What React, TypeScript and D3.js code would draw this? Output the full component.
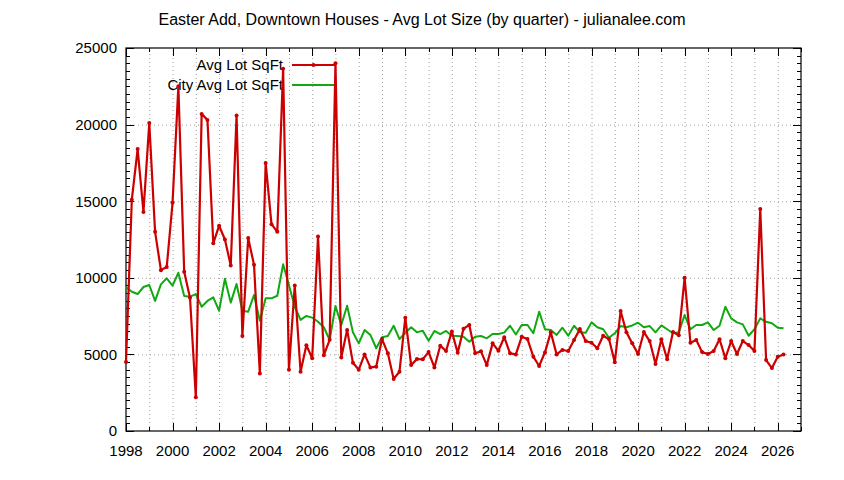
import React, { useEffect, useRef } from "react";
import * as d3 from "d3";

// quarterly series, first point is Q1 1998
const startYear = 1998;

const avgLotSqFt = [
  4500, 15100, 18400, 14300, 20100, 13000, 10500, 10700,
  14900, 22500, 10400, 8700, 2200, 20700, 20300, 12250,
  13400, 12500, 10800, 20600, 6200, 12600, 10850, 3750,
  17500, 13500, 13000, 23650, 4000, 9500, 3870, 5600,
  4750, 12700, 4950, 5950, 24000, 4800, 6600, 4450,
  4000, 5000, 4150, 4200, 6000, 5070, 3400, 3870,
  7400, 4300, 4700, 4680, 5150, 4150, 5570, 5220,
  6500, 5100, 6680, 6920, 5070, 5200, 4300, 5720,
  5240, 6120, 5070, 5000, 6150, 6000, 4850, 4240,
  5130, 6440, 5000, 5290, 5220, 5940, 6650, 5870,
  5760, 5400, 6220, 6000, 4480, 7830, 6440, 5720,
  5030, 6460, 5870, 4370, 5990, 4680, 6460, 6250,
  10000, 5760, 5940, 5150, 5030, 5220, 5990, 4750,
  5870, 5030, 5870, 5610, 5220, 14490, 4630, 4110,
  4850, 5000,
];

const cityAvgLotSqFt = [
  9400, 9090, 8940, 9400, 9530, 8490, 9570, 9970,
  9490, 10330, 8810, 8770, 8940, 8110, 8490, 8720,
  7850, 9940, 8380, 9600, 7850, 7790, 8880, 7200,
  8660, 8660, 8830, 10880, 9530, 8110, 7250, 7510,
  7400, 7130, 6770, 5940, 8160, 6920, 8180, 6440,
  5720, 6590, 6270, 5400, 6120, 6200, 6870, 6000,
  6420, 6770, 6440, 6550, 5890, 6530, 6330, 6530,
  6220, 6200, 6150, 5830, 6150, 6200, 6050, 6330,
  6330, 6420, 6870, 6300, 6920, 6920, 6380, 7790,
  6640, 6590, 6270, 6740, 6220, 6870, 6440, 6420,
  7090, 6770, 6640, 6090, 6380, 6850, 6770, 6890,
  7070, 6770, 6850, 6440, 6890, 6640, 6380, 6440,
  7570, 6640, 6920, 6920, 7090, 6590, 6870, 8110,
  7350, 7090, 6960, 6220, 6640, 7350, 7130, 7030,
  6740, 6700,
];

const yTicks = [0, 5000, 10000, 15000, 20000, 25000];
const xTicks = [1998, 2000, 2002, 2004, 2006, 2008, 2010, 2012, 2014, 2016, 2018, 2020, 2022, 2024, 2026];

const title = "Easter Add, Downtown Houses - Avg Lot Size (by quarter) - julianalee.com";
const seriesNames = ["Avg Lot SqFt", "City Avg Lot SqFt"];

const Chart = () => {
  const chartRef = useRef(null);
  const width = 844;
  const height = 480;
  const marginTop = 48;
  const marginRight = 43;
  const marginBottom = 49;
  const marginLeft = 126;
  const red = "#cc0000";
  const green = "#11a811";

  useEffect(() => {
    if (!chartRef.current) return;
    const svg = d3.select(chartRef.current);
    svg.selectAll("*").remove();
    svg.attr("width", width).attr("height", height).attr("viewBox", [0, 0, width, height]);

    const x = d3.scaleLinear([1998, 2027], [marginLeft, width - marginRight]);
    const y = d3.scaleLinear([0, 25000], [height - marginBottom, marginTop]);
    const font = "'Liberation Sans', Arial, sans-serif";

    svg.append("rect").attr("width", width).attr("height", height).attr("fill", "#fff");

    // grid: every year vertically, every 5000 horizontally
    const grid = svg.append("g").attr("stroke", "#a0a0a0").attr("stroke-width", 1).attr("stroke-dasharray", "1,3");
    d3.range(1999, 2027).forEach((yr) => {
      grid.append("line").attr("x1", x(yr) + 0.5).attr("x2", x(yr) + 0.5)
        .attr("y1", y(0)).attr("y2", y(25000));
    });
    [5000, 10000, 15000, 20000].forEach((v) => {
      grid.append("line").attr("x1", x(1998)).attr("x2", x(2027))
        .attr("y1", y(v) + 0.5).attr("y2", y(v) + 0.5);
    });

    // tick marks, mirrored on top and right
    const ticks = svg.append("g").attr("stroke", "#000").attr("stroke-width", 1);
    d3.range(0, 25001, 500).forEach((v) => {
      const len = v % 5000 === 0 ? 8 : 4;
      const yy = Math.round(y(v)) + 0.5;
      ticks.append("line").attr("x1", x(1998)).attr("x2", x(1998) + len).attr("y1", yy).attr("y2", yy);
      ticks.append("line").attr("x1", x(2027)).attr("x2", x(2027) - len).attr("y1", yy).attr("y2", yy);
    });
    d3.range(1998, 2028).forEach((yr) => {
      const len = yr % 2 === 0 ? 8 : 4;
      const xx = Math.round(x(yr)) + 0.5;
      ticks.append("line").attr("x1", xx).attr("x2", xx).attr("y1", y(0)).attr("y2", y(0) - len);
      ticks.append("line").attr("x1", xx).attr("x2", xx).attr("y1", y(25000)).attr("y2", y(25000) + len);
    });

    // border
    svg.append("rect")
      .attr("x", x(1998)).attr("y", y(25000))
      .attr("width", x(2027) - x(1998)).attr("height", y(0) - y(25000))
      .attr("fill", "none").attr("stroke", "#000").attr("stroke-width", 1.2);

    // tick labels
    svg.append("g").selectAll("text").data(yTicks).join("text")
      .attr("x", marginLeft - 9).attr("y", (d) => y(d))
      .attr("dy", "0.36em").attr("text-anchor", "end")
      .attr("font-family", font).attr("font-size", 15)
      .text((d) => d);
    svg.append("g").selectAll("text").data(xTicks).join("text")
      .attr("x", (d) => x(d)).attr("y", height - marginBottom + 25)
      .attr("text-anchor", "middle")
      .attr("font-family", font).attr("font-size", 15)
      .text((d) => d);

    // title
    svg.append("text").attr("x", 422).attr("y", 25).attr("text-anchor", "middle")
      .attr("font-family", font).attr("font-size", 16).text(title);

    const line = d3.line<number>()
      .x((d, i) => x(startYear + i / 4))
      .y((d) => y(d));

    // legend
    const legendX = 283;
    const sampleX1 = 292;
    const sampleX2 = 335;
    [65, 85].forEach((ly, k) => {
      svg.append("text").attr("x", legendX).attr("y", ly).attr("dy", "0.36em")
        .attr("text-anchor", "end").attr("font-family", font).attr("font-size", 15)
        .text(seriesNames[k]);
      svg.append("line").attr("x1", sampleX1).attr("x2", sampleX2).attr("y1", ly).attr("y2", ly)
        .attr("stroke", k === 0 ? red : green).attr("stroke-width", k === 0 ? 2.2 : 2);
    });
    svg.append("circle").attr("cx", (sampleX1 + sampleX2) / 2).attr("cy", 65).attr("r", 2).attr("fill", red);

    // city line
    svg.append("path").attr("fill", "none").attr("stroke", green).attr("stroke-width", 2)
      .attr("stroke-linejoin", "round").attr("d", line(cityAvgLotSqFt));

    // area line
    svg.append("path").attr("fill", "none").attr("stroke", red).attr("stroke-width", 2.2)
      .attr("stroke-linejoin", "round").attr("d", line(avgLotSqFt));
    svg.append("g").selectAll("circle").data(avgLotSqFt).join("circle")
      .attr("cx", (d, i) => x(startYear + i / 4)).attr("cy", (d) => y(d))
      .attr("r", 2).attr("fill", red);
  }, [chartRef]);

  return <svg ref={chartRef} />;
};

export default function App() {
  return (
    <div style={{ position: "absolute", left: 0, top: 0 }}>
      <Chart />
    </div>
  );
}
